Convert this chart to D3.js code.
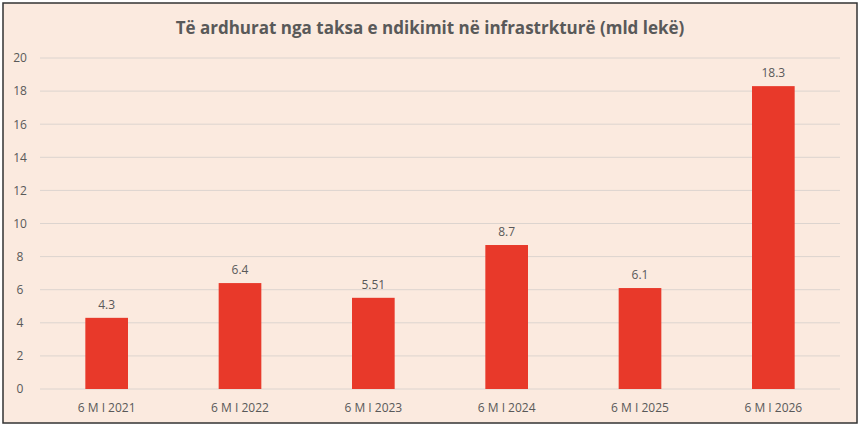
<!DOCTYPE html>
<html>
<head>
<meta charset="UTF-8">
<script src="https://d3js.org/d3.v7.min.js"></script>
<style>
  body { margin: 0; background: #fff; }
  text { font-family: "Open Sans", "Noto Sans", sans-serif; }
</style>
</head>
<body>
<svg id="chart" width="860" height="426"></svg>
<script>
// data
const categories = ['6 M I 2021', '6 M I 2022', '6 M I 2023', '6 M I 2024', '6 M I 2025', '6 M I 2026'];
const values = [4.3, 6.4, 5.51, 8.7, 6.1, 18.3];
const yTicks = [0, 2, 4, 6, 8, 10, 12, 14, 16, 18, 20];

const svg = d3.select('#chart');
const W = 860, H = 426;
const plotLeft = 40, plotRight = 840, plotTop = 58, plotBottom = 389;

svg.append('rect').attr('x', 3).attr('y', 3).attr('width', W - 6).attr('height', H - 6)
    .attr('fill', '#fbeadf').attr('stroke', '#333').attr('stroke-width', 1.5);

svg.append('text').attr('x', W / 2).attr('y', 34).attr('text-anchor', 'middle')
    .attr('font-size', 17).attr('font-weight', 'bold').attr('fill', '#595959')
    .text('Të ardhurat nga taksa e ndikimit në infrastrkturë (mld lekë)');

const x = d3.scaleBand().domain(categories).range([plotLeft, plotRight]).paddingInner(0.68).paddingOuter(0.34);
const y = d3.scaleLinear().domain([0, 20]).range([plotBottom, plotTop]);

// grid
svg.append('g').selectAll('line').data(yTicks).join('line')
    .attr('x1', plotLeft).attr('x2', plotRight)
    .attr('y1', d => y(d)).attr('y2', d => y(d))
    .attr('stroke', '#dcd4cf').attr('stroke-width', 1);

// y axis labels
const yAxis = d3.axisLeft(y).tickValues(yTicks).tickSize(0).tickPadding(0);
const gy = svg.append('g').attr('transform', `translate(${plotLeft - 20},0)`).call(yAxis);
gy.select('.domain').remove();
gy.selectAll('text').attr('font-size', 12).attr('fill', '#595959').attr('text-anchor', 'middle');

// x axis labels
const xAxis = d3.axisBottom(x).tickSize(0).tickPadding(14);
const gx = svg.append('g').attr('transform', `translate(0,${plotBottom})`).call(xAxis);
gx.select('.domain').remove();
gx.selectAll('text').attr('font-size', 12).attr('fill', '#595959');

// bars
svg.append('g').selectAll('rect').data(values).join('rect')
    .attr('x', (d, i) => x(categories[i]))
    .attr('width', x.bandwidth())
    .attr('y', d => y(d))
    .attr('height', d => plotBottom - y(d))
    .attr('fill', '#e8392a');

// value labels
svg.append('g').selectAll('text').data(values).join('text')
    .attr('x', (d, i) => x(categories[i]) + x.bandwidth() / 2)
    .attr('y', d => y(d) - 9)
    .attr('text-anchor', 'middle').attr('font-size', 12).attr('fill', '#595959')
    .text(d => d);
</script>
</body>
</html>
